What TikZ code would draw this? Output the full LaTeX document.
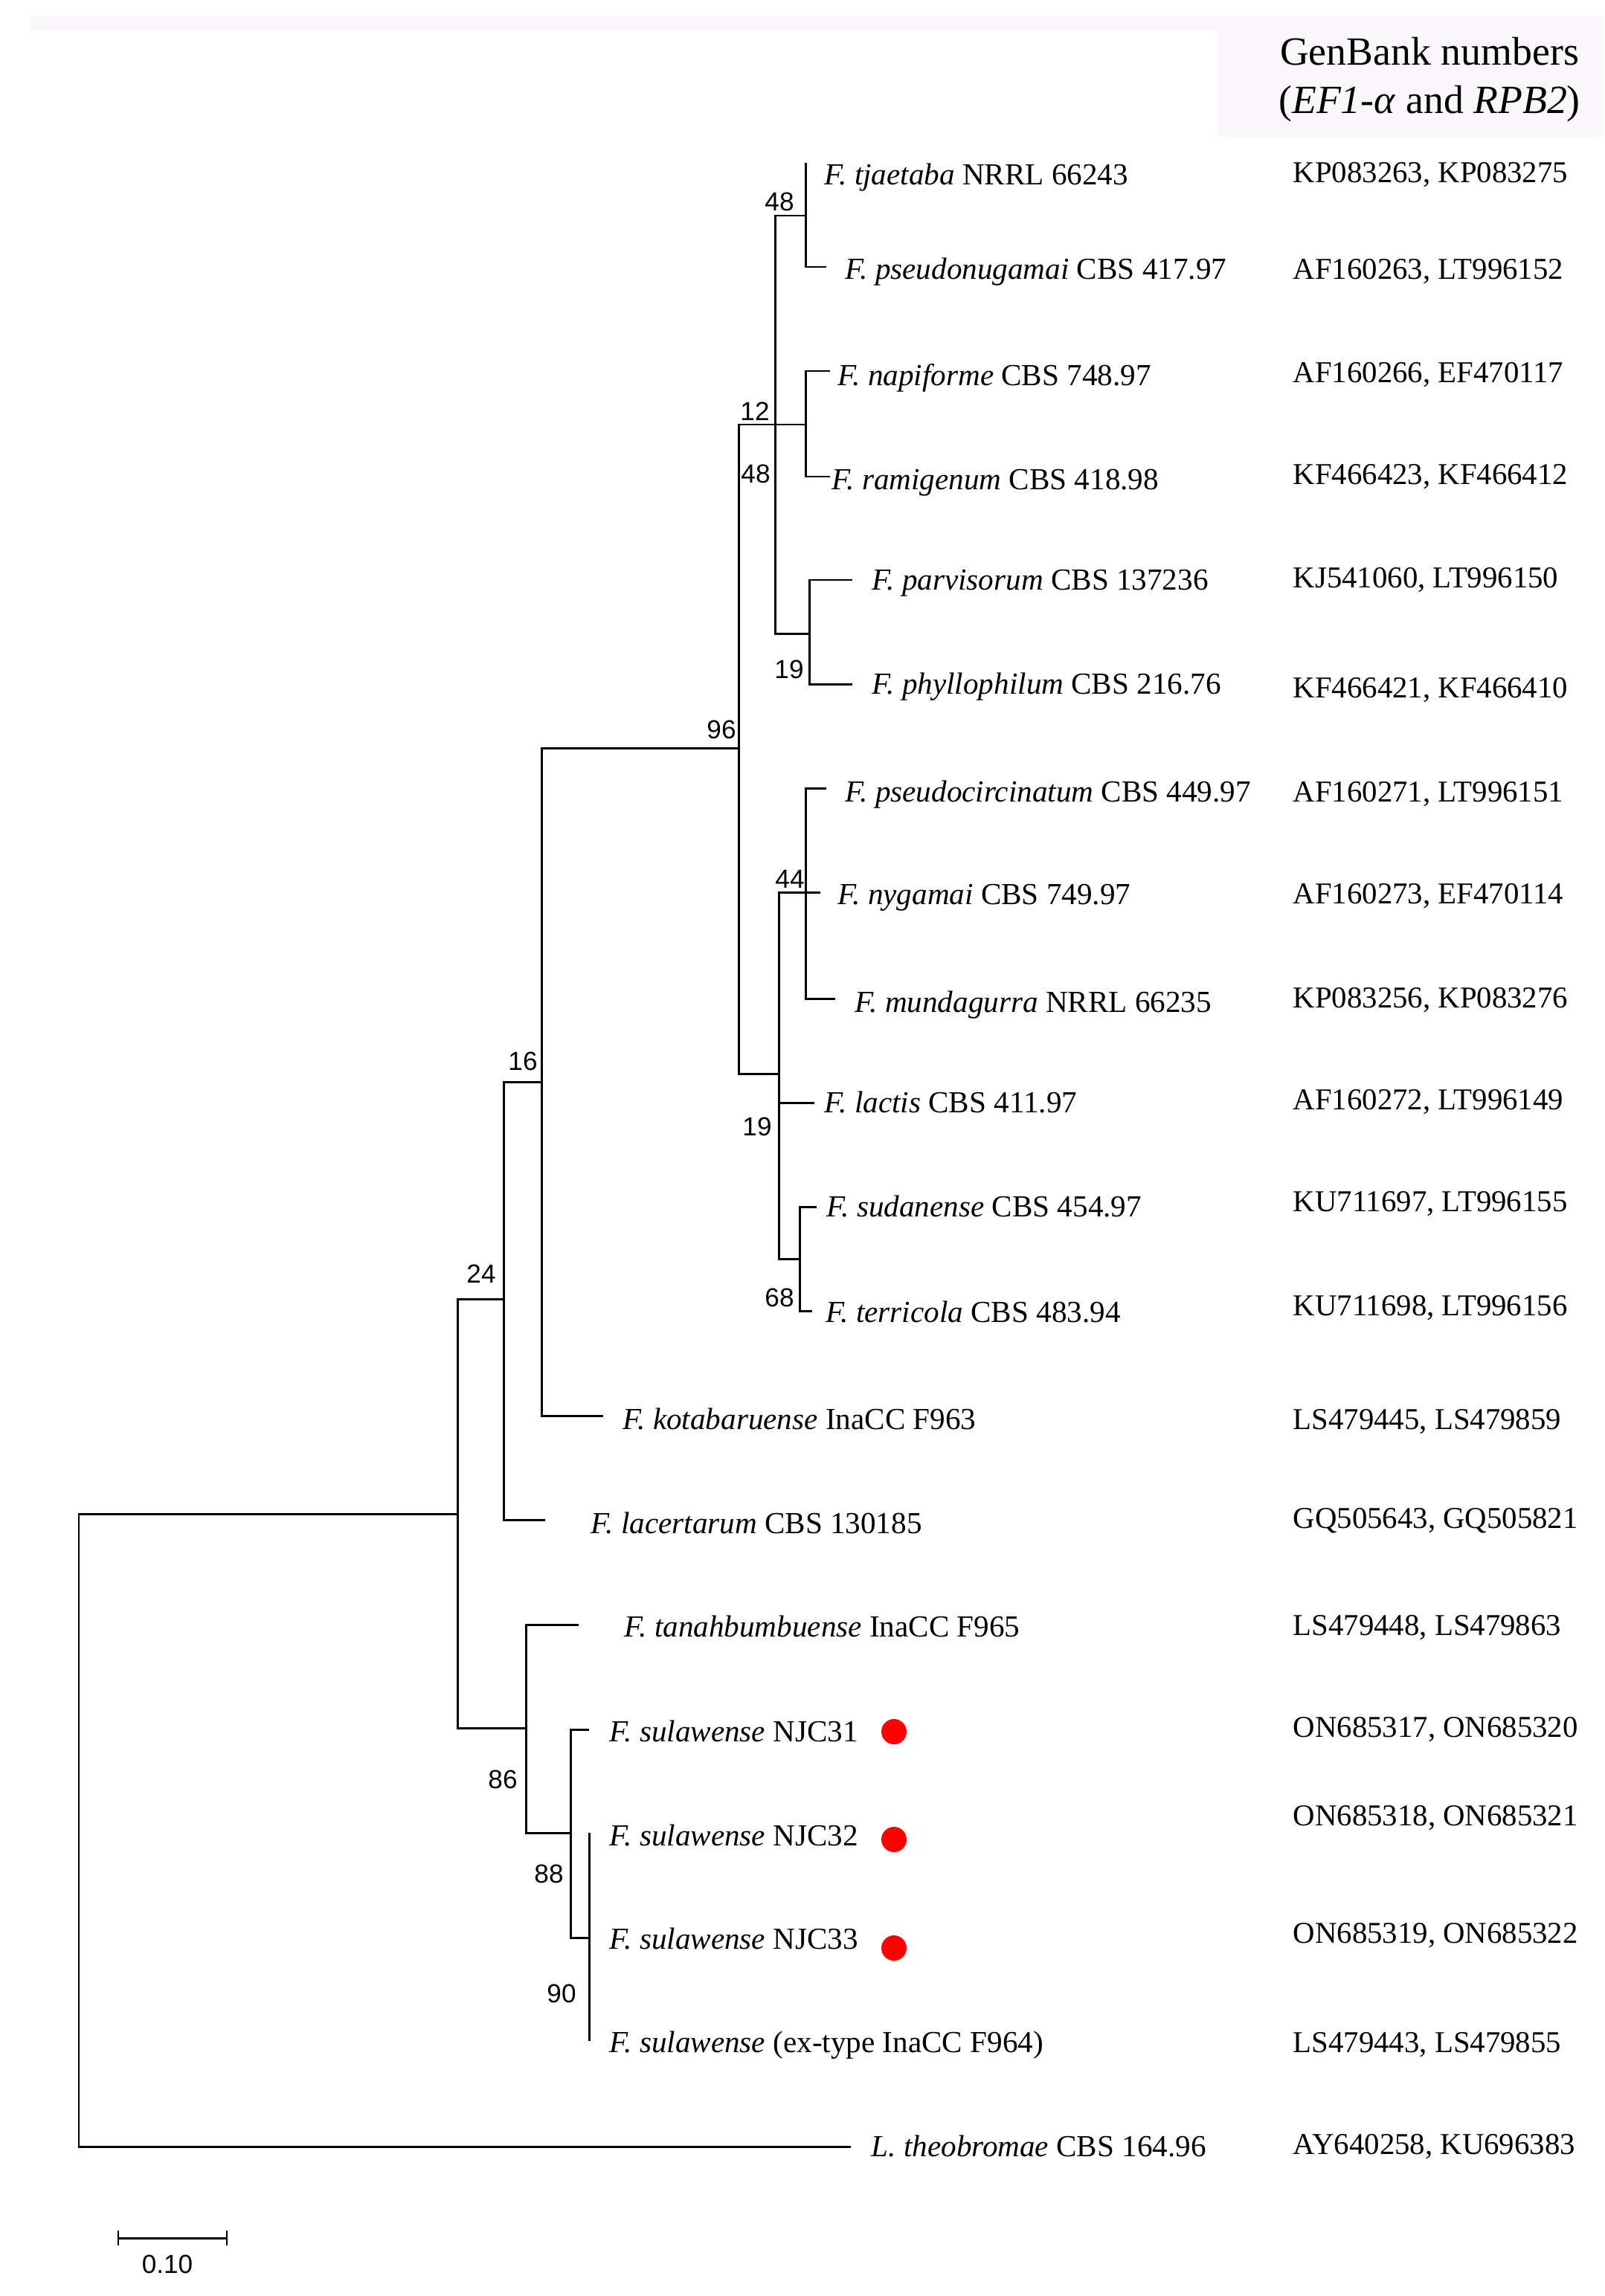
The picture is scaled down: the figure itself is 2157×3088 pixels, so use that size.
\documentclass[tikz,border=0pt]{standalone}
\usepackage{fontspec}
\setmainfont{Liberation Serif}
\newfontfamily\bootfont{Liberation Sans}
\definecolor{hdrgray}{RGB}{250,248,250}
\definecolor{dotred}{RGB}{255,0,0}
\tikzset{
  branch/.style={line width=0.85pt, black},
  taxon/.style={anchor=mid west, inner sep=0pt, yshift=-1.6pt, font=\fontsize{11.7}{14}\selectfont},
  accno/.style={anchor=mid west, inner sep=0pt, yshift=-1.6pt, font=\fontsize{11.6}{14}\selectfont},
  boot/.style={inner sep=0pt, font=\bootfont\fontsize{10}{12}\selectfont},
  newisolate/.style={circle, fill=dotred, inner sep=0pt, minimum size=0.34cm}
}
\begin{document}
\begin{tikzpicture}[x=0.01cm, y=-0.01cm]
\useasboundingbox (0,0) rectangle (2157,3088);

% header
\fill[hdrgray] (40,21) rectangle (2157,40);
\fill[hdrgray] (1638,21) rectangle (2157,184);
\node[align=center, inner sep=0pt, font=\fontsize{15.3}{18.5}\selectfont] (hdr) at (1922,107)
  {GenBank numbers\\(\textit{EF1-α} and \textit{RPB2})};

% internal nodes
\coordinate (root) at (106,2461);
\coordinate (nA) at (615,2036);
\coordinate (n24) at (677,1747);
\coordinate (n16) at (728,1455);
\coordinate (n96) at (993,1006);
\coordinate (n12) at (1042,571);
\coordinate (n48) at (1083,290);
\coordinate (nNap) at (1083,571);
\coordinate (nPar) at (1088,852);
\coordinate (n19) at (1047,1444);
\coordinate (n44) at (1083,1200);
\coordinate (nSud) at (1075,1693);
\coordinate (n86) at (707,2324);
\coordinate (n88) at (767,2465);
\coordinate (n90) at (792,2606);

% tips
\coordinate (lTja) at (1083,219);
\coordinate (lPsn) at (1111,359);
\coordinate (lNap) at (1116,499);
\coordinate (lRam) at (1116,641);
\coordinate (lPar) at (1146,780);
\coordinate (lPhy) at (1146,920);
\coordinate (lPsc) at (1111,1060);
\coordinate (lNyg) at (1103,1200);
\coordinate (lMun) at (1123,1343);
\coordinate (lLac) at (1095,1483);
\coordinate (lSud) at (1098,1623);
\coordinate (lTer) at (1092,1763);
\coordinate (lKot) at (811,1904);
\coordinate (lLace) at (733,2044);
\coordinate (lTan) at (778,2185);
\coordinate (lN31) at (792,2326);
\coordinate (lN32) at (792,2465);
\coordinate (lExt) at (792,2745);
\coordinate (lTheo) at (1144,2887);

% branches
\draw[branch] (root) |- (nA) (root) |- (lTheo);
\draw[branch] (nA) |- (n24) (nA) |- (n86);
\draw[branch] (n24) |- (n16) (n24) |- (lLace);
\draw[branch] (n16) |- (n96) (n16) |- (lKot);
\draw[branch] (n96) |- (n12) (n96) |- (n19);
\draw[branch] (n12) |- (n48) (n12) |- (nNap) (n12) |- (nPar);
\draw[branch] (n48) |- (lTja) (n48) |- (lPsn);
\draw[branch] (nNap) |- (lNap) (nNap) |- (lRam);
\draw[branch] (nPar) |- (lPar) (nPar) |- (lPhy);
\draw[branch] (n19) |- (n44) (n19) |- (lLac) (n19) |- (nSud);
\draw[branch] (n44) |- (lPsc) (n44) |- (lNyg) (n44) |- (lMun);
\draw[branch] (nSud) |- (lSud) (nSud) |- (lTer);
\draw[branch] (n86) |- (lTan) (n86) |- (n88);
\draw[branch] (n88) |- (lN31) (n88) |- (n90);
\draw[branch] (n90) |- (lN32) (n90) |- (lExt);

% bootstrap values
\node[boot] (b48a) at (1048,271) {48};
\node[boot] (b12) at (1015,553) {12};
\node[boot] (b48b) at (1016,637) {48};
\node[boot] (b19a) at (1061,900) {19};
\node[boot] (b96) at (970,981) {96};
\node[boot] (b44) at (1062,1182) {44};
\node[boot] (b19b) at (1018,1515) {19};
\node[boot] (b68) at (1048,1745) {68};
\node[boot] (b16) at (703,1427) {16};
\node[boot] (b24) at (647,1713) {24};
\node[boot] (b86) at (676,2393) {86};
\node[boot] (b88) at (738,2520) {88};
\node[boot] (b90) at (755,2681) {90};

% taxa
\node[taxon] (tTja) at (1108,235) {\textit{F. tjaetaba} NRRL 66243};
\node[taxon] (tPsn) at (1136,362) {\textit{F. pseudonugamai} CBS 417.97};
\node[taxon] (tNap) at (1126,505) {\textit{F. napiforme} CBS 748.97};
\node[taxon] (tRam) at (1118,645) {\textit{F. ramigenum} CBS 418.98};
\node[taxon] (tPar) at (1172,780) {\textit{F. parvisorum} CBS 137236};
\node[taxon] (tPhy) at (1172,920) {\textit{F. phyllophilum} CBS 216.76};
\node[taxon] (tPsc) at (1136,1065) {\textit{F. pseudocircinatum} CBS 449.97};
\node[taxon] (tNyg) at (1126,1203) {\textit{F. nygamai} CBS 749.97};
\node[taxon] (tMun) at (1149,1348) {\textit{F. mundagurra} NRRL 66235};
\node[taxon] (tLac) at (1108,1483) {\textit{F. lactis} CBS 411.97};
\node[taxon] (tSud) at (1111,1623) {\textit{F. sudanense} CBS 454.97};
\node[taxon] (tTer) at (1110,1765) {\textit{F. terricola} CBS 483.94};
\node[taxon] (tKot) at (837,1909) {\textit{F. kotabaruense} InaCC F963};
\node[taxon] (tLace) at (794,2049) {\textit{F. lacertarum} CBS 130185};
\node[taxon] (tTan) at (839,2188) {\textit{F. tanahbumbuense} InaCC F965};
\node[taxon] (tN31) at (819,2329) {\textit{F. sulawense} NJC31};
\node[taxon] (tN32) at (819,2469) {\textit{F. sulawense} NJC32};
\node[taxon] (tN33) at (819,2608) {\textit{F. sulawense} NJC33};
\node[taxon] (tExt) at (819,2747) {\textit{F. sulawense} (ex-type InaCC F964)};
\node[taxon] (tTheo) at (1171,2887) {\textit{L. theobromae} CBS 164.96};

% new isolates
\node[newisolate] (d31) at (1202,2329) {};
\node[newisolate] (d32) at (1202,2474) {};
\node[newisolate] (d33) at (1202,2620) {};

% accession numbers
\node[accno] (aTja) at (1738,232) {KP083263, KP083275};
\node[accno] (aPsn) at (1738,362) {AF160263, LT996152};
\node[accno] (aNap) at (1738,501) {AF160266, EF470117};
\node[accno] (aRam) at (1738,638) {KF466423, KF466412};
\node[accno] (aPar) at (1738,777) {KJ541060, LT996150};
\node[accno] (aPhy) at (1738,925) {KF466421, KF466410};
\node[accno] (aPsc) at (1738,1065) {AF160271, LT996151};
\node[accno] (aNyg) at (1738,1202) {AF160273, EF470114};
\node[accno] (aMun) at (1738,1342) {KP083256, KP083276};
\node[accno] (aLac) at (1738,1479) {AF160272, LT996149};
\node[accno] (aSud) at (1738,1616) {KU711697, LT996155};
\node[accno] (aTer) at (1738,1756) {KU711698, LT996156};
\node[accno] (aKot) at (1738,1909) {LS479445, LS479859};
\node[accno] (aLace) at (1738,2042) {GQ505643, GQ505821};
\node[accno] (aTan) at (1738,2186) {LS479448, LS479863};
\node[accno] (aN31) at (1738,2323) {ON685317, ON685320};
\node[accno] (aN32) at (1738,2442) {ON685318, ON685321};
\node[accno] (aN33) at (1738,2600) {ON685319, ON685322};
\node[accno] (aExt) at (1738,2747) {LS479443, LS479855};
\node[accno] (aTheo) at (1738,2884) {AY640258, KU696383};

% scale bar
\coordinate (sbL) at (159,3010);
\coordinate (sbR) at (305,3010);
\draw[branch] (sbL) -- (sbR);
\draw[branch] (sbL) ++(0,-10) -- ++(0,20);
\draw[branch] (sbR) ++(0,-10) -- ++(0,20);
\node[boot] (sblabel) at (225,3045) {0.10};

\end{tikzpicture}
\end{document}
